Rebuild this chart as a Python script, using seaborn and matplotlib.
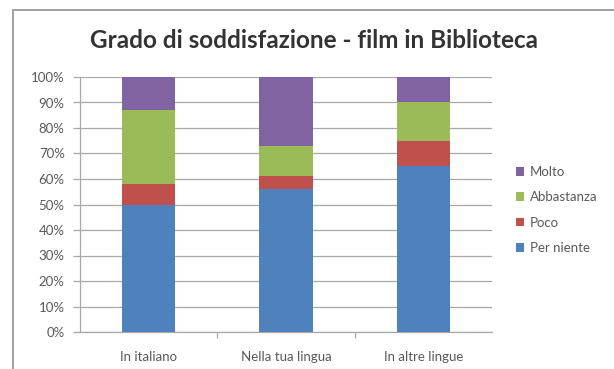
import numpy as np
import pandas as pd
import matplotlib
matplotlib.use("Agg")
import matplotlib.pyplot as plt
import seaborn as sns
from matplotlib.patches import Rectangle, Patch

categories = ["In italiano", "Nella tua lingua", "In altre lingue"]
per_niente = [50, 56, 65]
poco = [8, 5, 10]
abbastanza = [29, 12, 15]
molto = [13, 27, 10]

series_names = ["Per niente", "Poco", "Abbastanza", "Molto"]
series_colors = ["#4F81BD", "#C0504D", "#9BBB59", "#8064A2"]
y_ticks = list(range(0, 101, 10))
y_tick_labels = [f"{v}%" for v in y_ticks]

sns.set_theme(style="white")
plt.rcParams["font.family"] = ["Lato", "DejaVu Sans"]

fig = plt.figure(figsize=(6.14, 3.69), dpi=100)
ax = fig.add_axes([80 / 614, 1 - 332 / 369, 412 / 614, 255 / 369])

# outer chart frame
fig.patches.append(Rectangle((13 / 614, -0.05), 1.2, 1 - 10 / 369 + 0.05,
                             transform=fig.transFigure, fill=False,
                             edgecolor="#A0A0A0", linewidth=1.4, zorder=0))

df = pd.DataFrame({"cat": categories, "Per niente": per_niente, "Poco": poco,
                   "Abbastanza": abbastanza, "Molto": molto})
cum = df[series_names].cumsum(axis=1)

# stack by drawing cumulative totals from the top layer down
for name, color in reversed(list(zip(series_names, series_colors))):
    sns.barplot(data=cum.assign(cat=df["cat"]), x="cat", y=name, color=color,
                width=0.39, ax=ax, saturation=1, linewidth=0, zorder=3)

ax.set_ylim(0, 100)
ax.set_xlim(-0.5, 2.5)
ax.set_yticks(y_ticks)
ax.set_yticklabels(y_tick_labels)
ax.set_xlabel("")
ax.set_ylabel("")
ax.yaxis.grid(True, color="#A8A8A8", linewidth=0.9, zorder=0)
ax.set_axisbelow(True)

for s in ["top", "right"]:
    ax.spines[s].set_visible(False)
for s in ["left", "bottom"]:
    ax.spines[s].set_color("#A8A8A8")
    ax.spines[s].set_linewidth(0.9)

ax.tick_params(axis="y", left=True, length=5, width=0.9, color="#A8A8A8",
               labelsize=9.5, labelcolor="#595959", pad=6)
ax.set_xticks([0, 1, 2])
ax.set_xticklabels(categories)
ax.set_xticks([0.5, 1.5], minor=True)
ax.tick_params(axis="x", which="major", bottom=False, labelsize=9.5,
               labelcolor="#595959", pad=8)
ax.tick_params(axis="x", which="minor", bottom=True, length=4, width=0.9,
               color="#A8A8A8")

handles = [Patch(facecolor=c, edgecolor="none") for c in reversed(series_colors)]
fig.legend(handles, list(reversed(series_names)), loc="center left",
           bbox_to_anchor=(509 / 614, 1 - 210 / 369), frameon=False,
           fontsize=9.5, labelcolor="#595959", handlelength=0.65, handleheight=0.65,
           handletextpad=0.45, labelspacing=1.0, borderpad=0)

fig.text(314 / 614, 1 - 41 / 369, "Grado di soddisfazione - film in Biblioteca",
         ha="center", va="center", fontsize=17.5, fontweight="bold", color="#333333")

fig.savefig("out.png", dpi=100)
